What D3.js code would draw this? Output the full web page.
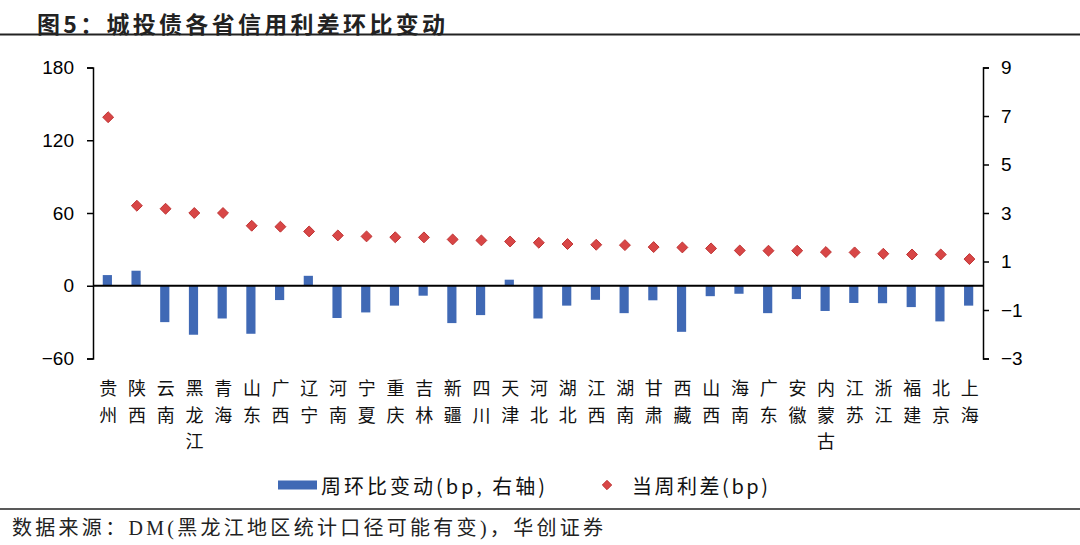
<!DOCTYPE html>
<html lang="zh-CN">
<head>
  <meta charset="UTF-8">
  <title>城投债各省信用利差环比变动</title>
  <style>
    body { margin: 0; background: #fff; }
    svg { display: block; }
    .cjk { font-family: "Noto Sans CJK SC", sans-serif; }
    .tick text { font: 19px "Liberation Sans", Arial, sans-serif; fill: #000; }
  </style>
</head>
<body>
  <svg width="1080" height="545"></svg>
  <script src="https://d3js.org/d3.v7.min.js"></script>
  <script>
    // 省份（按当周利差从高到低）
    const provinces = ["贵州", "陕西", "云南", "黑龙江", "青海", "山东", "广西", "辽宁", "河南", "宁夏",
      "重庆", "吉林", "新疆", "四川", "天津", "河北", "湖北", "江西", "湖南", "甘肃",
      "西藏", "山西", "海南", "广东", "安徽", "内蒙古", "江苏", "浙江", "福建", "北京", "上海"];
    // 当周利差 (bp, 左轴)
    const spread = [139, 66, 63.5, 60, 60, 49.5, 48.7, 44.8, 41.5, 40.7,
      40, 39.9, 38.2, 37.4, 36.5, 35.5, 34.4, 33.8, 33.5, 31.9,
      31.6, 30.8, 29.1, 28.9, 28.9, 27.8, 27.5, 26.4, 25.8, 25.8, 22];
    // 周环比变动 (bp, 右轴)
    const weekChange = [0.44, 0.62, -1.5, -2.02, -1.35, -1.98, -0.59, 0.41, -1.33, -1.1,
      -0.82, -0.41, -1.54, -1.21, 0.25, -1.35, -0.82, -0.58, -1.13, -0.6,
      -1.9, -0.43, -0.33, -1.13, -0.55, -1.04, -0.71, -0.72, -0.88, -1.47, -0.82];
    const leftTicks = [180, 120, 60, 0, -60];
    const rightTicks = [9, 7, 5, 3, 1, -1, -3];

    const svg = d3.select("svg");
    const plotL = 93, plotR = 983, plotT = 67.5, plotB = 358.5;
    const barColor = "#4069B5", dotColor = "#D84646", dotStroke = "#BF3434";
    const fmt = d => d < 0 ? "\u2212" + Math.abs(d) : String(d);

    // 标题
    svg.append("text")
      .attr("class", "cjk")
      .attr("x", 37).attr("y", 23)
      .attr("dominant-baseline", "central")
      .attr("textLength", 408).attr("lengthAdjust", "spacing")
      .style("font-size", "23px").style("font-weight", "bold").style("fill", "#222")
      .text("图5：城投债各省信用利差环比变动");
    svg.append("line").attr("x1", 0).attr("x2", 1080).attr("y1", 34.5).attr("y2", 34.5)
      .attr("stroke", "#222").attr("stroke-width", 2);

    const x = d3.scaleBand().domain(provinces).range([plotL, plotR]).padding(0);
    const yL = d3.scaleLinear().domain([-60, 180]).range([plotB, plotT]);
    const yR = d3.scaleLinear().domain([-3, 9]).range([plotB, plotT]);
    const barW = x.bandwidth() * 0.32;

    // 柱：周环比变动
    svg.append("g").selectAll("rect")
      .data(weekChange)
      .enter().append("rect")
      .attr("x", (d, i) => x(provinces[i]) + x.bandwidth() / 2 - barW / 2)
      .attr("y", d => yR(Math.max(0, d)))
      .attr("width", barW)
      .attr("height", d => Math.abs(yR(d) - yR(0)))
      .attr("fill", barColor);

    // 左轴
    const gL = svg.append("g").attr("transform", `translate(${plotL},0)`)
      .call(d3.axisLeft(yL).tickValues(leftTicks).tickFormat(fmt).tickSize(6).tickPadding(13));
    gL.select(".domain").attr("stroke", "#000").attr("stroke-width", 1.5);
    gL.selectAll(".tick line").attr("stroke", "#000").attr("stroke-width", 1.5);

    // 右轴
    const gR = svg.append("g").attr("transform", `translate(${plotR},0)`)
      .call(d3.axisRight(yR).tickValues(rightTicks).tickFormat(fmt).tickSize(6).tickPadding(12));
    gR.select(".domain").attr("stroke", "#000").attr("stroke-width", 1.5);
    gR.selectAll(".tick line").attr("stroke", "#000").attr("stroke-width", 1.5);

    // 零线
    svg.append("line")
      .attr("x1", plotL).attr("x2", plotR)
      .attr("y1", yL(0)).attr("y2", yL(0))
      .attr("stroke", "#000").attr("stroke-width", 2.2);

    // 点：当周利差
    const diamond = d3.symbol().type(d3.symbolDiamond2).size(76);
    svg.append("g").selectAll("path")
      .data(spread)
      .enter().append("path")
      .attr("d", diamond)
      .attr("transform", (d, i) => `translate(${x(provinces[i]) + x.bandwidth() / 2 + 0.8},${yL(d)})`)
      .attr("fill", dotColor).attr("stroke", dotStroke).attr("stroke-width", 1);

    // 横轴标签（竖排，每字一个 text）
    const chars = [];
    provinces.forEach(p => p.split("").forEach((c, j) => chars.push({ p, c, j })));
    svg.append("g").selectAll("text")
      .data(chars)
      .enter().append("text")
      .attr("class", "cjk")
      .attr("text-anchor", "middle")
      .attr("dominant-baseline", "central")
      .attr("x", d => x(d.p) + x.bandwidth() / 2 + 1)
      .attr("y", d => 387 + d.j * 26.5)
      .style("font-size", "18px").style("fill", "#111")
      .text(d => d.c);

    // 图例
    const lg = svg.append("g").attr("class", "cjk").style("font-size", "20px").style("fill", "#111");
    lg.append("rect").attr("x", 278).attr("y", 480.5).attr("width", 39).attr("height", 9).attr("fill", barColor);
    lg.append("text").attr("x", 321).attr("y", 485).attr("dominant-baseline", "central")
      .attr("textLength", 224).attr("lengthAdjust", "spacing")
      .text("周环比变动(bp, 右轴)");
    lg.append("path").attr("d", d3.symbol().type(d3.symbolDiamond2).size(56)).attr("transform", "translate(607,485)")
      .attr("fill", dotColor).attr("stroke", dotStroke);
    lg.append("text").attr("x", 632).attr("y", 485).attr("dominant-baseline", "central")
      .attr("textLength", 136).attr("lengthAdjust", "spacing")
      .text("当周利差(bp)");

    // 底线与数据来源
    svg.append("line").attr("x1", 0).attr("x2", 1080).attr("y1", 509).attr("y2", 509)
      .attr("stroke", "#222").attr("stroke-width", 1.5);
    svg.append("text")
      .attr("x", 12).attr("y", 528).attr("dominant-baseline", "central")
      .attr("textLength", 591).attr("lengthAdjust", "spacing")
      .style("font-family", "'Liberation Serif', 'Noto Sans CJK SC', serif")
      .style("font-size", "20px").style("fill", "#222")
      .text("数据来源：DM(黑龙江地区统计口径可能有变)，华创证券");
  </script>
</body>
</html>
